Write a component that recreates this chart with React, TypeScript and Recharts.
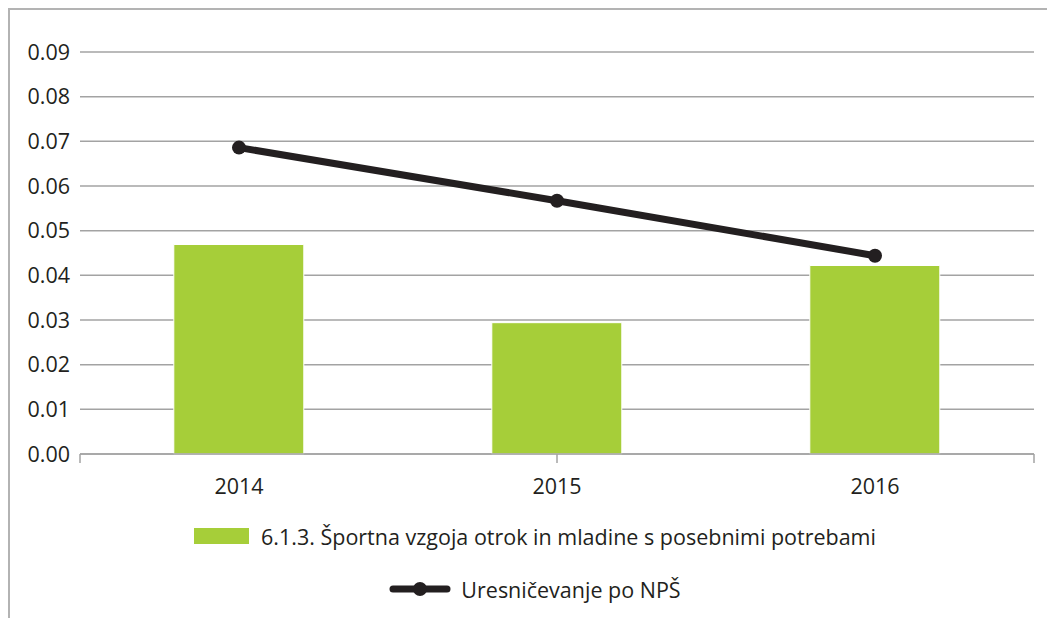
import React from 'react';
import { ComposedChart, Bar, Line, XAxis, YAxis, CartesianGrid, Legend } from 'recharts';

const years = ['2014', '2015', '2016'];
const sportValues = [0.0469, 0.0294, 0.0422];
const nspValues = [0.0686, 0.0567, 0.0444];
const yTicks = [0, 0.01, 0.02, 0.03, 0.04, 0.05, 0.06, 0.07, 0.08, 0.09];
const boundaryTicks = [0, 1, 2, 3];

const barName = '6.1.3. Športna vzgoja otrok in mladine s posebnimi potrebami';
const lineName = 'Uresničevanje po NPŠ';

const data = years.map((year, i) => ({
  year,
  sport: sportValues[i],
  nsp: nspValues[i],
}));

const TEXT = '#231f20';
const GREEN = '#a6ce39';
const FONT = '"Open Sans", sans-serif';
const FS = 21.5;

function ChartLegend() {
  const row: React.CSSProperties = {
    position: 'absolute',
    left: 0,
    width: 1050,
    height: 30,
    display: 'flex',
    alignItems: 'center',
    justifyContent: 'center',
  };
  return (
    <div style={{ position: 'relative', width: 1050, height: 110, fontFamily: FONT, fontSize: FS, color: TEXT }}>
      <div style={{ ...row, top: 26 }}>
        <div style={{ width: 55, height: 16, background: GREEN, marginRight: 12 }} />
        <span>{barName}</span>
      </div>
      <div style={{ ...row, top: 79 }}>
        <svg width={62} height={16} style={{ marginRight: 10 }}>
          <line x1={4} y1={8} x2={58} y2={8} stroke={TEXT} strokeWidth={7} strokeLinecap="round" />
          <circle cx={31} cy={8} r={7} fill={TEXT} />
        </svg>
        <span>{lineName}</span>
      </div>
    </div>
  );
}

export default function App() {
  return (
    <div style={{ width: 1060, height: 620, borderLeft: '2px solid #b3b3b3', borderTop: '2px solid #b3b3b3', boxSizing: 'border-box' }}>
      <ComposedChart
        width={1050}
        height={610}
        data={data}
        margin={{ top: 42, right: 26, left: 0, bottom: 15 }}
        barCategoryGap="29.5%"
      >
        <CartesianGrid xAxisId={1} vertical={false} stroke="#a3a3a3" strokeWidth={1.5} />
        <XAxis
          xAxisId={0}
          type="number"
          domain={[0, 3]}
          allowDataOverflow
          ticks={boundaryTicks}
          tick={() => <g />}
          height={1}
          stroke="#a3a3a3"
          strokeWidth={1.5}
          tickLine={{ stroke: '#a3a3a3', strokeWidth: 1.5 }}
          tickSize={9}
        />
        <XAxis
          xAxisId={1}
          dataKey="year"
          height={40}
          axisLine={false}
          tickLine={false}
          tickSize={0}
          tickMargin={24}
          tick={{ fill: TEXT, fontSize: FS, fontFamily: FONT }}
        />
        <YAxis
          width={70}
          domain={[0, 0.09]}
          ticks={yTicks}
          axisLine={false}
          tickLine={false}
          tickSize={0}
          tickMargin={10}
          tickFormatter={(v: number) => v.toFixed(2)}
          tick={{ fill: TEXT, fontSize: FS, fontFamily: FONT }}
        />
        <Legend verticalAlign="bottom" height={110} content={() => <ChartLegend />} />
        <Bar xAxisId={1} dataKey="sport" name={barName} fill={GREEN} stroke="#ffffff" strokeWidth={1} isAnimationActive={false} />
        <Line
          xAxisId={1}
          dataKey="nsp"
          name={lineName}
          stroke={TEXT}
          strokeWidth={7}
          dot={{ r: 7, fill: TEXT, stroke: TEXT, strokeWidth: 0 }}
          isAnimationActive={false}
        />
      </ComposedChart>
    </div>
  );
}
